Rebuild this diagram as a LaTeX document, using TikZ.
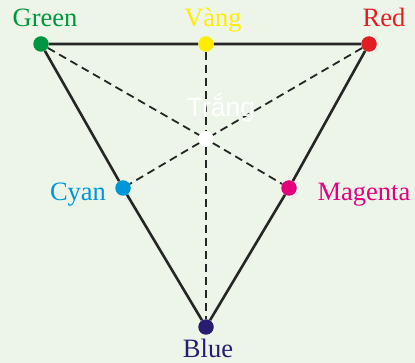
\documentclass[tikz,border=0pt]{standalone}
\usepackage{fontspec}
\setmainfont{Liberation Serif}
\newfontfamily\labelsans{Liberation Sans}
\definecolor{Bg}{RGB}{236,245,232}
\definecolor{GreenC}{RGB}{0,150,64}
\definecolor{YellowC}{RGB}{255,236,0}
\definecolor{RedC}{RGB}{226,30,36}
\definecolor{CyanC}{RGB}{0,150,218}
\definecolor{MagentaC}{RGB}{228,0,125}
\definecolor{BlueC}{RGB}{40,28,112}
\usepackage{tikz}
\usetikzlibrary{positioning}
\begin{document}
\begin{tikzpicture}[x=1pt,y=-1pt,
  dot/.style={circle,inner sep=0pt,minimum size=15.5pt},
  edge/.style={line width=2.6pt,black!85},
  median/.style={line width=1.8pt,black!85,dash pattern=on 8pt off 5pt},
  lbl/.style={anchor=base,inner sep=0pt,font=\fontsize{26.5}{30}\selectfont}]
  \fill[Bg] (0,0) rectangle (415,363);
  \useasboundingbox (0,0) rectangle (415,363);
  % colour points
  \node[dot,fill=GreenC] (G) at (41,44) {};
  \node[dot,fill=YellowC] (Y) at (206,44) {};
  \node[dot,fill=RedC] (R) at (369,44) {};
  \node[dot,fill=CyanC] (C) at (123,188) {};
  \node[dot,fill=MagentaC] (M) at (289,188) {};
  \node[dot,fill=BlueC] (B) at (206,327) {};
  \node[dot,fill=white] (W) at (206,139) {};
  % sides and medians
  \draw[edge] (G) -- (Y) -- (R) -- (M) -- (B) -- (C) -- (G);
  \draw[median] (G) -- (W) -- (M);
  \draw[median] (R) -- (W) -- (C);
  \draw[median] (Y) -- (W) -- (B);
  % labels
  \node[lbl,text=GreenC] (lG) at (45,27) {Green};
  \node[lbl,text=YellowC] (lY) at (213,27) {Vàng};
  \node[lbl,text=RedC] (lR) at (384,27) {Red};
  \node[lbl,text=CyanC] (lC) at (78,201) {Cyan};
  \node[lbl,text=MagentaC] (lM) at (364,201) {Magenta};
  \node[lbl,text=BlueC] (lB) at (208,357) {Blue};
  \node[lbl,text=white,font=\labelsans\fontsize{26.5}{30}\selectfont] (lW) at (221,117) {Trắng};
\end{tikzpicture}
\end{document}
